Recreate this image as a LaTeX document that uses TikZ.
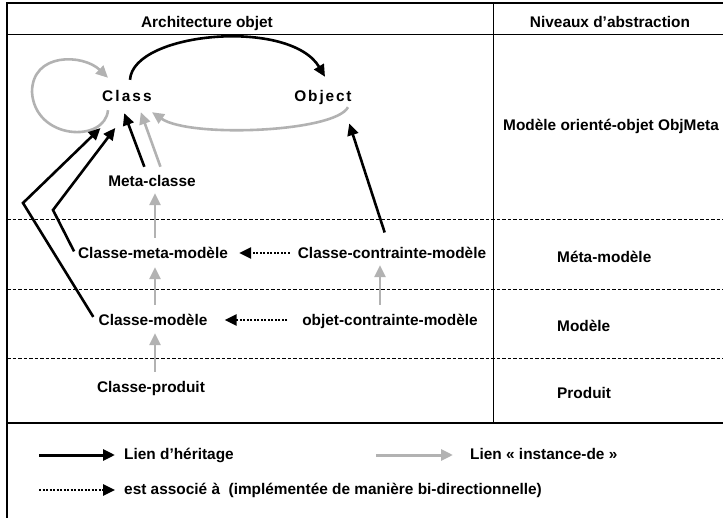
\documentclass[tikz,border=0pt]{standalone}
\usepackage{fontspec}
\setmainfont{Liberation Sans}
\usetikzlibrary{arrows.meta}
\definecolor{instgray}{RGB}{178,178,178}

\begin{document}
\begin{tikzpicture}[x=1pt,y=-1pt,
    lbl/.style={font=\fontsize{15.4}{18}\selectfont\bfseries, inner sep=2pt, text height=11pt, text depth=3pt},
    inh/.style={-{Triangle[length=12pt,width=11pt]}, line width=2.6pt},
    inst/.style={inh, instgray},
    assoc/.style={inh, dash pattern=on 2pt off 1.5pt},
    sep/.style={dash pattern=on 3.5pt off 2pt, line width=0.8pt}]
\useasboundingbox (0,0) rectangle (723,518);
                \draw [line width=1.4pt] (723,3) -- (7,3) -- (7,518);
                \draw [line width=0.9pt] (7,34) -- (723,34);
                \draw [line width=0.9pt] (493,3) -- (493,423);
                \draw [line width=1.4pt] (7,423) -- (723,423);
                \draw [sep] (7,219) -- (723,219);
                \draw [sep] (7,289) -- (723,289);
                \draw [sep] (7,358) -- (723,358);
                \node [lbl] (hdArch) at (207,24) {Architecture objet};
                \node [lbl] (hdNiv) at (610,24) {Niveaux d’abstraction};
                \node [lbl] (cls) at (127,98) {\addfontfeature{LetterSpace=14}Cl\kern2pt ass};
                \node [lbl] (obj) at (323,98) {\addfontfeature{LetterSpace=12}Object};
                \node [lbl] (mcl) at (152,183) {Meta-classe};
                \node [lbl] (cmm) at (153,255) {Classe-meta-modèle};
                \node [lbl] (ccm) at (392,255) {Classe-contrainte-modèle};
                \node [lbl] (cmo) at (153,322) {Classe-modèle};
                \node [lbl] (ocm) at (390,322) {objet-contrainte-modèle};
                \node [lbl] (cpr) at (151,389) {Classe-produit};
                \node [lbl,anchor=west] (lvObj) at (501,127) {Modèle orienté-objet ObjMeta};
                \node [lbl,anchor=west] (lvMeta) at (555,259) {Méta-modèle};
                \node [lbl,anchor=west] (lvMod) at (555,328) {Modèle};
                \node [lbl,anchor=west] (lvProd) at (555,395) {Produit};
                \coordinate (kA) at (23,203);
                \coordinate (kB) at (53,210);
                \draw [inst] ([xshift=-19pt,yshift=-3pt]cls.south) .. controls +(-3,33) and +(3,48) .. ++(-76,-18)
                      .. controls +(0,-40) and +(-25,-24) .. ([xshift=-19pt,yshift=11pt]cls.north);
                \draw [inh] ([xshift=3pt,yshift=9pt]cls.north) .. controls +(3,-48) and +(-35,-59) .. ([xshift=2pt,yshift=12pt]obj.north);
                \draw [inst] ([xshift=25pt]obj.south) .. controls +(-13,25) and +(38,26) .. ([xshift=25pt,yshift=-5pt]cls.south);
                \draw [inh,shorten <=6pt,shorten >=30pt] (cmo.west) -- (kA) -- ([xshift=-5pt]cls.south);
                \draw [inh,shorten <=4pt,shorten >=26pt] (cmm.west) -- (kB) -- ([xshift=4pt]cls.south);
                \draw [inh,shorten <=7.5pt,shorten >=6.4pt] ([xshift=-5pt]mcl.north) -- ([xshift=-5pt]cls.south);
                \draw [inst,shorten <=7.5pt,shorten >=5.3pt] ([xshift=11pt]mcl.north) -- ([xshift=12pt]cls.south);
                \draw [inh,shorten <=14pt,shorten >=17pt] ([xshift=-3pt]ccm.north) -- ([xshift=21pt]obj.south);
                \draw [inst,shorten <=8pt,shorten >=1pt] ([xshift=2pt]cmm.north) -- ([xshift=3pt]mcl.south);
                \draw [inst,shorten <=8pt,shorten >=3pt] ([xshift=2pt]cmo.north) -- ([xshift=2pt]cmm.south);
                \draw [inst,shorten <=8pt,shorten >=2pt] ([xshift=4pt]cpr.north) -- ([xshift=2pt]cmo.south);
                \draw [inst,shorten <=8pt,shorten >=1pt] ([xshift=-10pt]ocm.north) -- ([xshift=-12pt]ccm.south);
                \draw [assoc,shorten <=6pt,shorten >=9pt] ([yshift=2pt]ccm.west) -- ([yshift=2pt]cmm.east);
                \draw [assoc,shorten <=13pt,shorten >=15pt] ([yshift=2pt]ocm.west) -- ([yshift=2pt]cmo.east);
                \node [lbl,anchor=west] (lgInh) at (122,455) {Lien d’héritage};
                \node [lbl,anchor=west] (lgInst) at (468,455) {Lien «~instance-de~»};
                \node [lbl,anchor=west] (lgAssoc) at (122,490) {est associé à~~(implémentée de manière bi-directionnelle)};
                \coordinate (lgA) at (39,455);
                \coordinate (lgB) at (376,455);
                \coordinate (lgC) at (39,490);
                \draw [inh,line width=3pt,shorten >=7pt] (lgA) -- (lgInh.west);
                \draw [inst,line width=3pt,shorten >=15pt] (lgB) -- (lgInst.west);
                \draw [assoc,shorten >=7pt] (lgC) -- (lgAssoc.west);
\end{tikzpicture}
\end{document}
